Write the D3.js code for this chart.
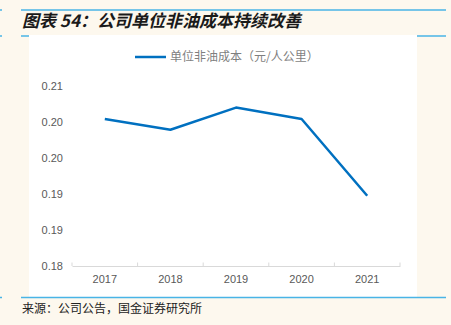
<!DOCTYPE html>
<html>
<head>
<meta charset="utf-8">
<script src="https://cdn.jsdelivr.net/npm/d3@7"></script>
<style>
  html, body { margin: 0; padding: 0; background: #fdf8ee; }
  svg { display: block; }
</style>
</head>
<body>
<svg id="chart" width="451" height="325"></svg>
<script>
// Unit non-fuel cost, yuan per passenger-km
const years = ["2017", "2018", "2019", "2020", "2021"];
const unitCost = [0.2045, 0.2027, 0.2064, 0.2045, 0.1917];
const yTicks = [0.18, 0.186, 0.192, 0.198, 0.204, 0.21];
const yTickLabels = ["0.18", "0.19", "0.19", "0.20", "0.20", "0.21"];
const seriesName = "单位非油成本（元/人公里）";
const titleText = "图表 54：公司单位非油成本持续改善";
const sourceText = "来源：公司公告，国金证券研究所";

const svg = d3.select("#chart");
const blue = "#49b4e6";
const cjk = "'Noto Sans CJK SC', 'Noto Sans', sans-serif";

// page frame rules
const rules = [
  { y: 10, x1: 21, x2: 446 },
  { y: 10, x1: 0, x2: 2 },
  { y: 36, x1: 21, x2: 29 },
  { y: 36, x1: 417, x2: 446 },
  { y: 36, x1: 0, x2: 2 },
  { y: 297.5, x1: 21, x2: 446 },
  { y: 297.5, x1: 0, x2: 2 }
];

// white chart panel
svg.append("rect")
  .attr("x", 29).attr("y", 35)
  .attr("width", 388).attr("height", 262)
  .attr("fill", "#ffffff");

svg.selectAll("line.rule").data(rules).enter().append("line")
  .attr("class", "rule")
  .attr("x1", d => d.x1).attr("x2", d => d.x2)
  .attr("y1", d => d.y).attr("y2", d => d.y)
  .attr("stroke", blue).attr("stroke-width", 1.5);

svg.append("text")
  .attr("x", 22).attr("y", 27)
  .attr("font-family", cjk)
  .attr("font-size", 17)
  .attr("font-weight", "bold")
  .attr("font-style", "italic")
  .attr("fill", "#1a1a1a")
  .text(titleText);

svg.append("text")
  .attr("x", 22).attr("y", 313)
  .attr("font-family", cjk)
  .attr("font-size", 12)
  .attr("fill", "#222")
  .text(sourceText);

// plot area
const plot = { left: 72, right: 400, top: 86, bottom: 266 };

const x = d3.scaleBand().domain(years).range([plot.left, plot.right]);
const y = d3.scaleLinear().domain([0.18, 0.21]).range([plot.bottom, plot.top]);

// x axis: baseline with ticks pointing up into the plot
const xAxis = d3.axisBottom(x).tickSize(0).tickPadding(9);
const gx = svg.append("g").attr("transform", `translate(0,${plot.bottom})`).call(xAxis);
gx.select(".domain").attr("stroke", "#d9d9d9");
gx.selectAll("text").attr("font-family", "'Liberation Sans', Arial, sans-serif")
  .attr("font-size", 11).attr("fill", "#595959");

const bandEdges = years.map(d => x(d)).concat([x(years[years.length - 1]) + x.bandwidth()]);
gx.selectAll("line.edge").data(bandEdges).enter().append("line")
  .attr("class", "edge")
  .attr("x1", d => d).attr("x2", d => d)
  .attr("y1", -3.5).attr("y2", 0)
  .attr("stroke", "#d9d9d9");

// y axis labels only
const yAxis = d3.axisLeft(y).tickValues(yTicks)
  .tickFormat((d, i) => yTickLabels[i]).tickSize(0).tickPadding(9);
const gy = svg.append("g").attr("transform", `translate(${plot.left},0)`).call(yAxis);
gy.select(".domain").remove();
gy.selectAll("text").attr("font-family", "'Liberation Sans', Arial, sans-serif")
  .attr("font-size", 11).attr("fill", "#595959");

// series line
const line = d3.line()
  .x((d, i) => x(years[i]) + x.bandwidth() / 2)
  .y(d => y(d));

svg.append("path")
  .datum(unitCost)
  .attr("d", line)
  .attr("fill", "none")
  .attr("stroke", "#0070c0")
  .attr("stroke-width", 2.5)
  .attr("stroke-linejoin", "round");

// legend
const leg = svg.append("g").attr("transform", "translate(135,57)");
leg.append("line").attr("x1", 0).attr("x2", 31).attr("y1", 0).attr("y2", 0)
  .attr("stroke", "#0070c0").attr("stroke-width", 2.5);
leg.append("text").attr("x", 35).attr("y", 4)
  .attr("font-family", cjk).attr("font-size", 12)
  .attr("fill", "#7f7f7f")
  .text(seriesName);
</script>
</body>
</html>
